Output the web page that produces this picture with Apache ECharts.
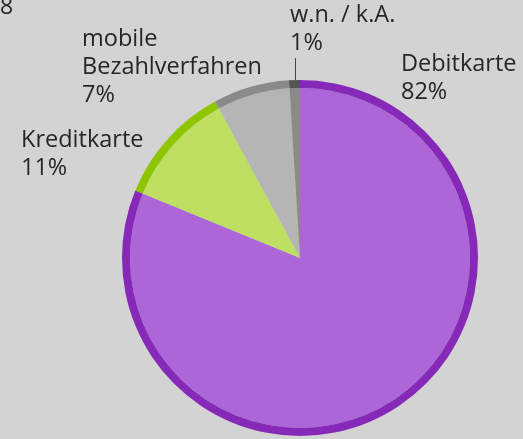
<!DOCTYPE html>
<html>
<head>
<meta charset="utf-8">
<script src="https://cdn.jsdelivr.net/npm/echarts@6/dist/echarts.min.js"></script>
<style>
html,body{margin:0;padding:0;background:#d3d3d3;}
#c{width:523px;height:439px;}
</style>
</head>
<body>
<div id="c"></div>
<script>
var categories = ['Debitkarte', 'Kreditkarte', 'mobile\nBezahlverfahren', 'w.n. / k.A.'];
var values = [82, 11, 7, 1];
var fillColors = ['#ad66d8', '#bfdf63', '#b5b5b5', '#8a8a8a'];
var ringColors = ['#8629b8', '#8ec400', '#8a8a8a', '#555555'];

var labelPos = [
  {x: 401, y: 50},
  {x: 21, y: 126},
  {x: 82, y: 25},
  {x: 290, y: 1}
];

var chart = echarts.init(document.getElementById('c'));
var center = [300, 258];
var R = 178, ring = 8;

function build(colors, withLabels) {
  return categories.map(function (n, i) {
    var d = {name: n, value: values[i], itemStyle: {color: colors[i]}};
    if (withLabels) {
      d.labelLine = {show: i === 3};
    }
    return d;
  });
}

chart.setOption({
  backgroundColor: '#d3d3d3',
  animation: false,
  graphic: [{
    type: 'text', left: 0, top: -4,
    style: {text: '8', fontSize: 23, fontFamily: 'Open Sans', fill: '#262626'}
  }],
  series: [{
    type: 'pie',
    center: center,
    radius: [0, R - ring],
    startAngle: 90,
    clockwise: true,
    silent: true,
    label: {show: false},
    labelLine: {show: false},
    data: build(fillColors, false)
  }, {
    type: 'pie',
    center: center,
    radius: [R - ring, R],
    startAngle: 90,
    clockwise: true,
    silent: true,
    label: {
      show: true,
      formatter: '{b}\n{c}%',
      color: '#262626',
      fontFamily: 'Open Sans',
      fontSize: 23.5,
      lineHeight: 28,
      align: 'left',
      overflow: 'none'
    },
    labelLine: {show: true, lineStyle: {color: '#444', width: 1}},
    labelLayout: function (p) {
      var pos = labelPos[p.dataIndex];
      var out = {x: pos.x, y: pos.y, align: 'left', verticalAlign: 'top'};
      if (p.dataIndex === 3) {
        out.labelLinePoints = [[295.5, 80], [295.5, 69], [295.5, 58]];
      }
      return out;
    },
    data: build(ringColors, true)
  }]
});
</script>
</body>
</html>
